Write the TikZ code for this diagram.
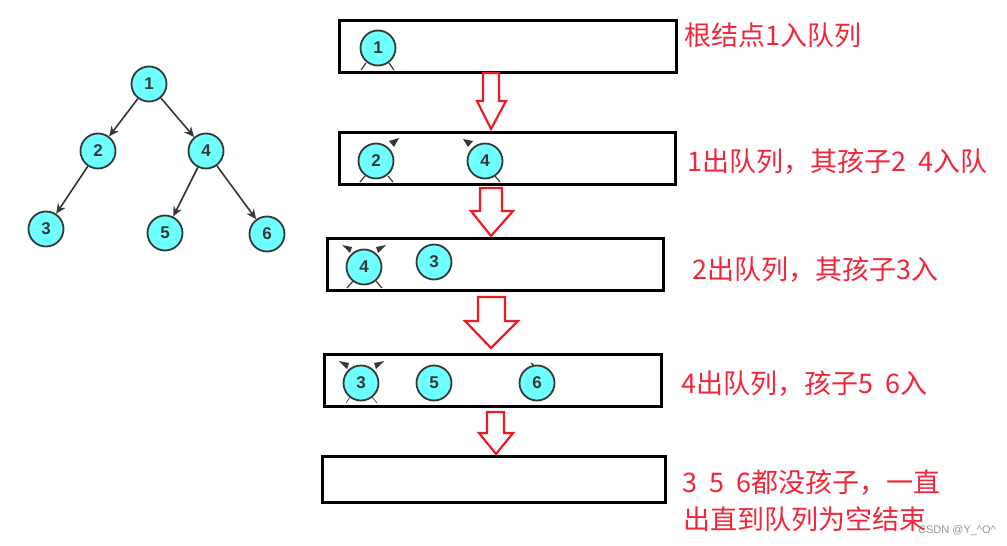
\documentclass[tikz,border=0pt]{standalone}
\usepackage{fontspec}
\setmainfont{Liberation Sans}
\newfontfamily\cjk{Noto Sans CJK SC}
\usetikzlibrary{arrows.meta}
\definecolor{nodefill}{RGB}{110,255,255}
\definecolor{nodeline}{RGB}{55,55,55}
\definecolor{arrred}{RGB}{237,28,36}
\definecolor{txtred}{RGB}{242,38,58}
\definecolor{wmgray}{RGB}{150,150,150}
\begin{document}
\begin{tikzpicture}[x=1pt,y=-1pt,
  tnode/.style={circle,draw=nodeline,fill=nodefill,line width=1.8pt,minimum size=35pt,inner sep=0pt,font=\fontsize{17}{17}\selectfont\bfseries,text=nodeline},
  tedge/.style={draw=nodeline,line width=1.6pt,-{Stealth[length=10pt,width=9pt]}},
  qbox/.style={draw=black,line width=3pt},
  barrow/.style={draw=arrred,line width=2.2pt,fill=white,line join=miter},
  note/.style={anchor=west,text=txtred,font=\cjk\fontsize{27}{30}\selectfont,inner sep=0pt},
  stub/.style={draw=nodeline,line width=1.2pt},
  wedge/.style={fill=nodeline}]
\fill[white] (0,0) rectangle (1007,546);
\useasboundingbox (0,0) rectangle (1007,546);

% ---- tree ----
\node[tnode] (t1) at (149,84) {1};
\node[tnode] (t2) at (98,151) {2};
\node[tnode] (t4) at (206,151) {4};
\node[tnode] (t3) at (46,229) {3};
\node[tnode] (t5) at (165,233) {5};
\node[tnode] (t6) at (267,234) {6};
\draw[tedge] (t1) -- (t2);
\draw[tedge] (t1) -- (t4);
\draw[tedge] (t2) -- (t3);
\draw[tedge] (t4) -- (t5);
\draw[tedge] (t4) -- (t6);

% ---- queue boxes ----
\draw[qbox] (339,20) rectangle (676,72);
\draw[qbox] (339,132) rectangle (675,184);
\draw[qbox] (327,238) rectangle (663,290);
\draw[qbox] (324,354) rectangle (661,406);
\draw[qbox] (322,456) rectangle (665,502);

% ---- artefacts of cropped edges ----
\draw[stub] (366,63) -- (361,70);
\draw[stub] (389,63) -- (394,70);
\fill[wedge] (389,141) -- (399,138) -- (394,147) -- cycle;
\draw[stub] (365,176) -- (360,182);
\draw[stub] (388,176) -- (393,182);
\fill[wedge] (463,139) -- (473,141) -- (468,147) -- cycle;
\draw[stub] (495,176) -- (500,182);
\fill[wedge] (342,245) -- (352,247) -- (350,253) -- cycle;
\fill[wedge] (386,245) -- (376,247) -- (378,253) -- cycle;
\draw[stub] (353,281) -- (347,288);
\draw[stub] (376,281) -- (382,288);
\fill[wedge] (339,361) -- (349,363) -- (347,369) -- cycle;
\fill[wedge] (384,361) -- (374,363) -- (376,369) -- cycle;
\draw[stub,line width=0.6pt] (350,397) -- (346,403);
\draw[stub,line width=0.6pt] (372,397) -- (377,403);
\draw[stub] (531,363) -- (536,367);

% ---- queue contents ----
\node[tnode] (q1a) at (378,48) {1};
\node[tnode] (q2a) at (376,161) {2};
\node[tnode] (q2b) at (485,161) {4};
\node[tnode] (q3a) at (364,267) {4};
\node[tnode] (q3b) at (434,262) {3};
\node[tnode] (q4a) at (361,383) {3};
\node[tnode] (q4b) at (434,383) {5};
\node[tnode] (q4c) at (537,383) {6};

% ---- block arrows ----
\draw[barrow] (483,73) -- (499,73) -- (499,101) -- (506,101) -- (491,129) -- (477,101) -- (483,101) -- cycle;
\draw[barrow] (480,188) -- (502,188) -- (502,211) -- (513,211) -- (491,236) -- (471,211) -- (480,211) -- cycle;
\draw[barrow] (478,297) -- (505,297) -- (505,321) -- (518,321) -- (491,348) -- (465,321) -- (478,321) -- cycle;
\draw[barrow] (487,412) -- (504,412) -- (504,433) -- (513,433) -- (496,454) -- (479,433) -- (487,433) -- cycle;

% ---- notes ----
\node[note] (n1) at (684,35) {根结点1入队列};
\node[note] (n2) at (687,162) {1出队列，其孩子2\hspace{0.45em}4入队};
\node[note] (n3) at (692,270) {2出队列，其孩子3入};
\node[note] (n4) at (681,384) {4出队列，孩子5\hspace{0.45em}6入};
\node[note] (n5) at (682,483) {3\hspace{0.45em}5\hspace{0.45em}6都没孩子，一直};
\node[note] (n6) at (683,519) {出直到队列为空结束};
\node[text=wmgray,font=\fontsize{11}{11}\selectfont,inner sep=0pt] (wm) at (957,531) {CSDN @Y\_\textasciicircum O\textasciicircum};
\end{tikzpicture}
\end{document}
